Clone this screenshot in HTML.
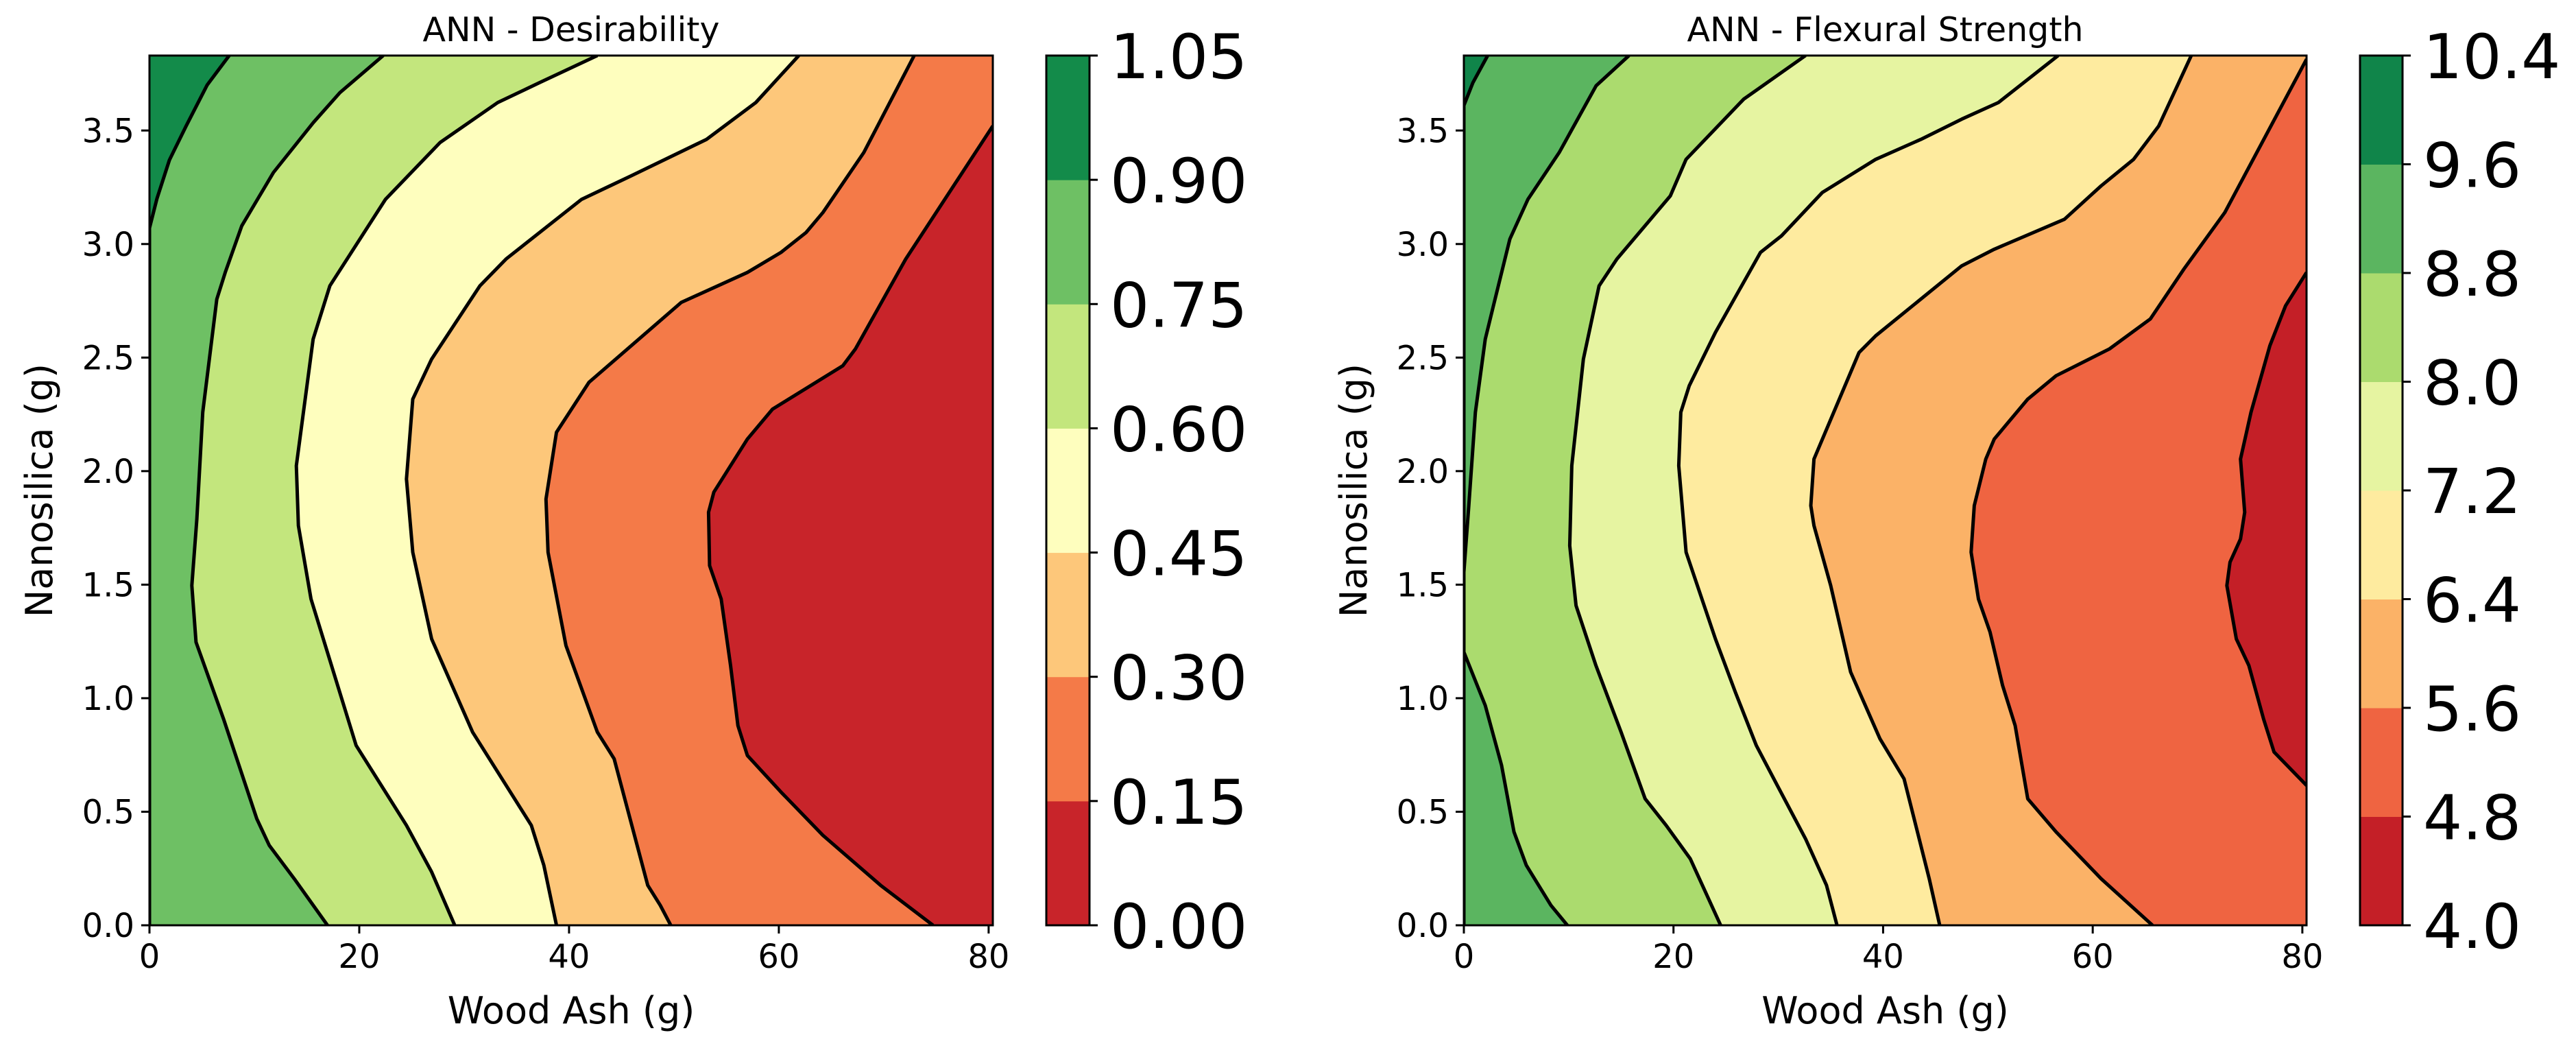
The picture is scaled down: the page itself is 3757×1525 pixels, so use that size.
<!DOCTYPE html>
<html><head><meta charset="utf-8"><style>
html,body{margin:0;padding:0;background:#fff;}
svg text{font-family:"DejaVu Sans","Liberation Sans",sans-serif;fill:#000;}
</style></head>
<body>
<svg id="fig" xmlns="http://www.w3.org/2000/svg" width="3757" height="1520" viewBox="0 0 3757 1520"></svg>
<script>
// ---- data: left plot (Desirability) ----
const levelsA = [0.00,0.15,0.30,0.45,0.60,0.75,0.90,1.05];
const colorsA = ["#c8242a","#f47a48","#fdc77a","#fefebe","#c3e67d","#6ec064","#138b4a"];
const linesA = [ // from highest-level line (top-left) to lowest (right)
 {x:[0,0,0.71,1.9,3.5,5.5,7.6], y:[0,3.07,3.20,3.37,3.52,3.70,3.83]},
 {x:[16.97,13.8,11.42,10.23,7.06,4.44,4.04,4.52,5.08,6.42,7.22,8.80,11.82,15.62,18.16,22.28], y:[0,0.205,0.352,0.469,0.909,1.247,1.496,1.789,2.259,2.757,2.875,3.08,3.315,3.535,3.667,3.83]},
 {x:[29.1,26.9,24.5,19.7,15.4,14.2,14.0,15.6,17.2,22.5,27.7,33.2,37.2,42.7], y:[0,0.235,0.44,0.792,1.437,1.76,2.024,2.581,2.816,3.197,3.447,3.623,3.711,3.83]},
 {x:[38.8,37.6,36.4,30.8,26.9,25.1,24.5,25.1,26.9,31.5,34.0,41.2,45.9,53.1,57.8,61.9], y:[0,0.264,0.44,0.851,1.261,1.643,1.965,2.317,2.493,2.816,2.934,3.197,3.300,3.461,3.623,3.83]},
 {x:[49.7,48.7,47.5,44.3,42.7,39.7,38.0,37.8,38.8,41.9,50.7,57.0,60.2,62.6,64.2,68.1,72.9], y:[0,0.088,0.176,0.733,0.851,1.232,1.643,1.877,2.171,2.391,2.743,2.875,2.963,3.051,3.139,3.403,3.83]},
 {x:[74.7,69.7,64.2,60.2,57.0,56.1,55.4,54.5,53.4,53.3,53.8,57.0,59.4,66.1,67.3,72.1,80.4], y:[0,0.176,0.396,0.587,0.748,0.88,1.144,1.437,1.584,1.819,1.907,2.141,2.273,2.464,2.538,2.934,3.52]}
];
const colorTicksA = ["0.00","0.15","0.30","0.45","0.60","0.75","0.90","1.05"];
// ---- data: right plot (Flexural Strength) ----
const levelsB = [4.0,4.8,5.6,6.4,7.2,8.0,8.8,9.6,10.4];
const colorsB = ["#c41f27","#ef6441","#fbb267","#feeb9f","#e6f4a1","#abdb6e","#5bb560","#10854a"];
const linesB = [
 {x:[0,0,0.86,2.27], y:[0,3.61,3.71,3.83]},
 {x:[9.87,8.31,5.96,4.78,3.6,2.04,0,0,0.47,1.1,2.04,2.82,4.39,6.11,9.09,12.62,15.75], y:[0,0.088,0.264,0.411,0.704,0.968,1.203,1.555,1.848,2.259,2.581,2.728,3.022,3.197,3.403,3.697,3.83]},
 {x:[24.5,21.6,19.3,17.3,15.0,12.6,10.7,10.1,10.3,11.4,12.9,14.6,19.7,21.2,26.7,32.6], y:[0,0.293,0.44,0.557,0.851,1.144,1.408,1.672,2.024,2.493,2.816,2.934,3.212,3.373,3.638,3.83]},
 {x:[35.6,34.6,32.6,29.9,27.9,25.9,24.0,21.2,20.5,20.7,21.5,24.0,28.3,30.3,34.2,39.3,43.6,47.5,51.0,56.7], y:[0,0.176,0.381,0.616,0.792,1.027,1.261,1.643,2.024,2.259,2.376,2.611,2.963,3.036,3.227,3.373,3.461,3.55,3.623,3.83]},
 {x:[45.4,44.4,42.0,39.7,36.9,35.0,33.4,33.1,33.4,37.7,39.3,47.5,50.6,57.3,60.8,63.9,66.3,69.4], y:[0,0.205,0.645,0.821,1.115,1.496,1.76,1.848,2.053,2.522,2.596,2.904,2.977,3.109,3.256,3.373,3.52,3.83]},
 {x:[65.7,60.8,56.5,53.8,52.6,51.4,50.2,49.1,48.4,48.7,49.8,50.6,53.8,56.5,61.6,65.5,68.7,72.6,80.4], y:[0,0.205,0.411,0.557,0.88,1.056,1.291,1.437,1.643,1.848,2.053,2.141,2.317,2.42,2.538,2.67,2.89,3.139,3.814]},
 {x:[80.4,77.3,76.3,74.9,73.7,72.8,73.1,74.1,74.5,74.1,75.1,76.9,78.4,80.4], y:[0.616,0.763,0.909,1.144,1.261,1.496,1.599,1.701,1.819,2.053,2.259,2.552,2.728,2.875]}
];
const colorTicksB = ["4.0","4.8","5.6","6.4","7.2","8.0","8.8","9.6","10.4"];
const xTicks = [0,20,40,60,80];
const yTicks = [0.0,0.5,1.0,1.5,2.0,2.5,3.0,3.5];

const NS = "http://www.w3.org/2000/svg";
const svg = document.getElementById('fig');
function mk(tag, attrs, parent){ const e=document.createElementNS(NS,tag); for(const k in attrs) e.setAttribute(k,attrs[k]); (parent||svg).appendChild(e); return e; }

function drawPanel(p){
  const X0=p.left, X1=p.right, Y0=81, Y1=1349, XMAX=80.4, YMAX=3.83;
  const sx = v => X0 + v/XMAX*(X1-X0);
  const sy = v => Y1 - v/YMAX*(Y1-Y0);
  const g = mk('g',{}); 
  
  
  const cp = mk('clipPath',{id:p.name+'-clip'}, g);
  mk('rect',{x:X0,y:Y0,width:X1-X0,height:Y1-Y0}, cp);
  const plot = mk('g',{'clip-path':'url(#'+p.name+'-clip)'}, g);
  const bg = mk('rect',{x:X0,y:Y0,width:X1-X0,height:Y1-Y0,fill:p.colors[p.colors.length-1]}, plot);
  
  
  const n = p.lines.length;
  p.lines.forEach((ln,i)=>{
    const col = p.colors[p.colors.length-2-i];
    let d = ln.x.map((v,j)=>(j?'L':'M')+sx(v).toFixed(1)+','+sy(ln.y[j]).toFixed(1)).join(' ');
    const last = ln.y[ln.y.length-1], first = ln.y[0];
    const fill = mk('path',{d:d+' L'+(X1+50)+','+sy(last).toFixed(1)+' L'+(X1+50)+','+sy(first).toFixed(1)+' Z',fill:col}, plot);
    
    
  });
  p.lines.forEach((ln,i)=>{
    let d = ln.x.map((v,j)=>(j?'L':'M')+sx(v).toFixed(1)+','+sy(ln.y[j]).toFixed(1)).join(' ');
    const l = mk('path',{d:d,fill:'none',stroke:'#000','stroke-width':5,'stroke-linejoin':'round'}, plot);
    
    
  });
  const fr = mk('rect',{x:X0,y:Y0,width:X1-X0,height:Y1-Y0,fill:'none',stroke:'#000','stroke-width':3}, g);
  
  
  xTicks.forEach(t=>{
    mk('line',{x1:sx(t),x2:sx(t),y1:Y1,y2:Y1+12,stroke:'#000','stroke-width':3}, g);
    const tx = mk('text',{x:sx(t),y:Y1+62,'font-size':48,'text-anchor':'middle'}, g);
    tx.textContent = String(t);
    
    
  });
  yTicks.forEach(t=>{
    mk('line',{x1:X0-12,x2:X0,y1:sy(t),y2:sy(t),stroke:'#000','stroke-width':3}, g);
    const tx = mk('text',{x:X0-22,y:sy(t)+17,'font-size':48,'text-anchor':'end'}, g);
    tx.textContent = t.toFixed(1);
    
    
  });
  const tt = mk('text',{x:(X0+X1)/2,y:60,'font-size':49,'text-anchor':'middle'}, g);
  tt.textContent = p.title;
  
  
  const xl = mk('text',{x:(X0+X1)/2,y:1492,'font-size':54,'text-anchor':'middle'}, g);
  xl.textContent = 'Wood Ash (g)';
  
  
  const yl = mk('text',{x:0,y:0,'font-size':54,'text-anchor':'middle',transform:'translate('+p.ylx+',715) rotate(-90)'}, g);
  yl.textContent = 'Nanosilica (g)';
  
  
  // colorbar
  const C0=p.cbLeft, C1=p.cbRight, nl=p.levels.length-1;
  const cy = k => Y1 - k/nl*(Y1-Y0);
  const cb = mk('g',{}, g);
  
  
  p.colors.forEach((c,k)=>{
    const r = mk('rect',{x:C0,y:cy(k+1),width:C1-C0,height:cy(k)-cy(k+1)+0.5,fill:c}, cb);
    
    
  });
  mk('rect',{x:C0,y:Y0,width:C1-C0,height:Y1-Y0,fill:'none',stroke:'#000','stroke-width':3}, cb);
  p.cbTicks.forEach((t,k)=>{
    mk('line',{x1:C1,x2:C1+12,y1:cy(k),y2:cy(k),stroke:'#000','stroke-width':3}, cb);
    const tx = mk('text',{x:C1+30,y:cy(k)+33,'font-size':90}, cb);
    tx.textContent = t;
    
    
  });
}
drawPanel({name:'desirability',title:'ANN - Desirability',left:218,right:1448,cbLeft:1526,cbRight:1589,ylx:76,levels:levelsA,colors:colorsA,lines:linesA,cbTicks:colorTicksA});
drawPanel({name:'flexural',title:'ANN - Flexural Strength',left:2135,right:3364,cbLeft:3442,cbRight:3504,ylx:1993,levels:levelsB,colors:colorsB,lines:linesB,cbTicks:colorTicksB});
</script>
</body></html>
